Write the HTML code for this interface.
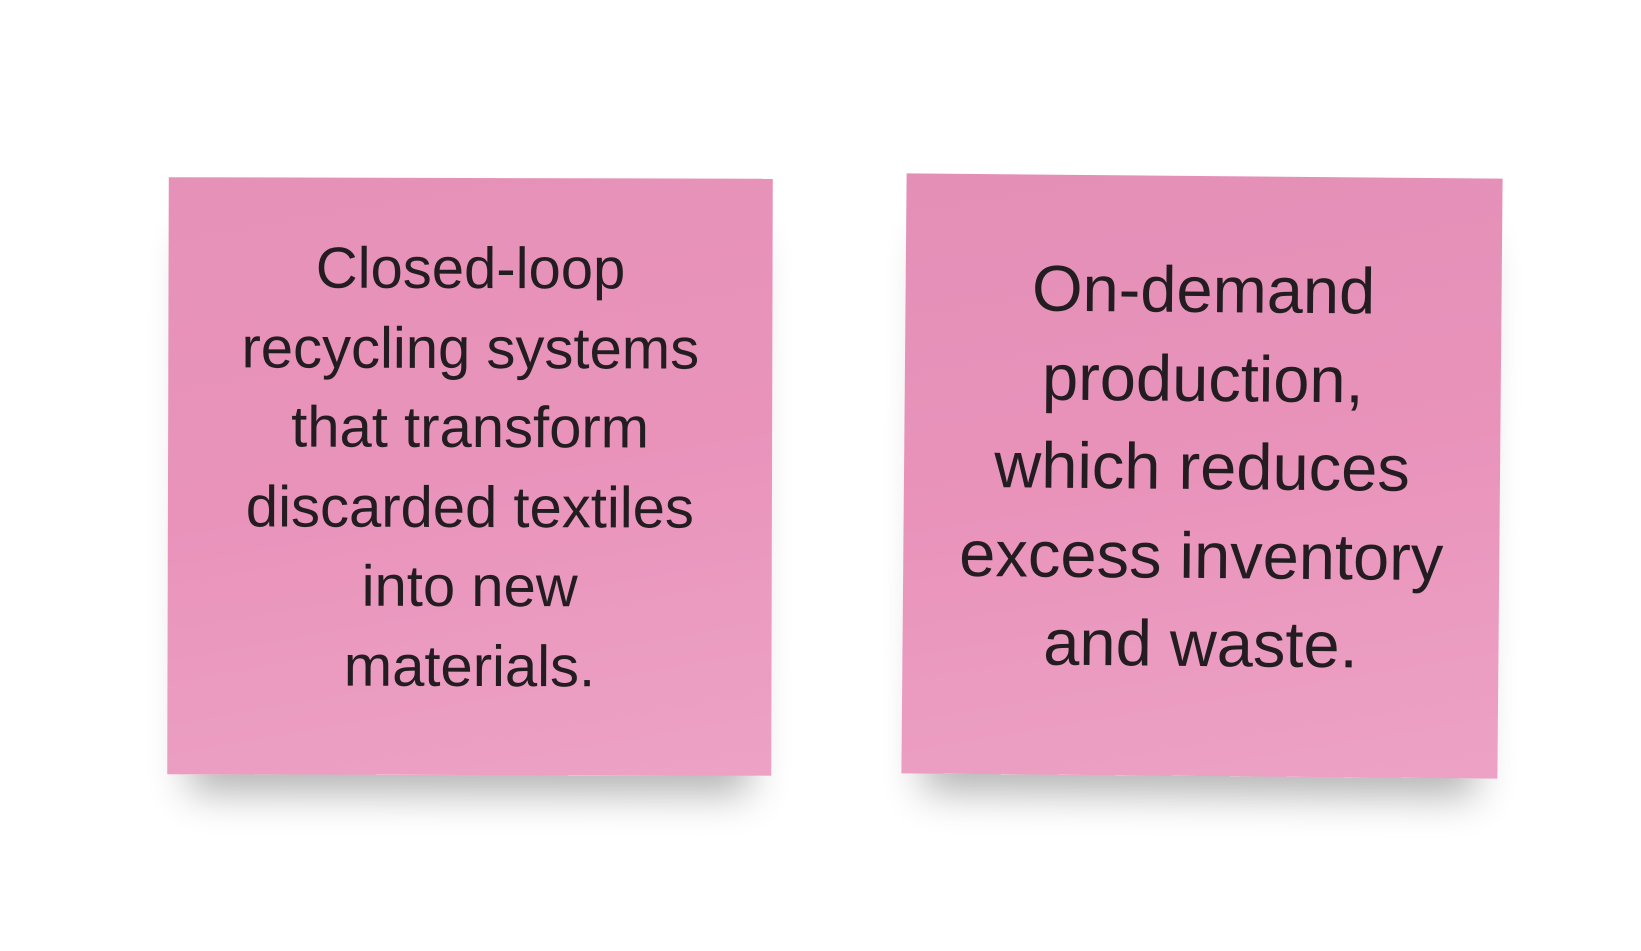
<!DOCTYPE html>
<html><head><style>
html,body{margin:0;width:1641px;height:951px;background:#fff;overflow:hidden;font-family:"Liberation Sans",sans-serif;}
.n{position:absolute;background:linear-gradient(170deg,#e692b8 0%,#e993bb 50%,#eda2c5 100%);box-shadow:0 40px 40px -22px rgba(0,0,0,0.3);}
.t{position:absolute;left:-40px;right:-40px;text-align:center;color:#231d22;}
</style></head><body>
<div class="n" style="left:168px;top:178px;width:604px;height:597px;transform:rotate(0.15deg);">
  <div class="t" style="top:51px;font-size:58px;line-height:79.5px;">Closed-loop<br>recycling systems<br>that transform<br>discarded textiles<br>into new<br>materials.</div>
</div>
<div class="n" style="left:904px;top:176px;width:596px;height:600px;transform:rotate(0.5deg);background:linear-gradient(170deg,#e38fb6 0%,#e993bb 50%,#eda2c5 100%);">
  <div class="t" style="top:70px;font-size:65px;line-height:88.5px;">On-demand<br>production,<br>which reduces<br>excess inventory<br>and waste.</div>
</div>
</body></html>
